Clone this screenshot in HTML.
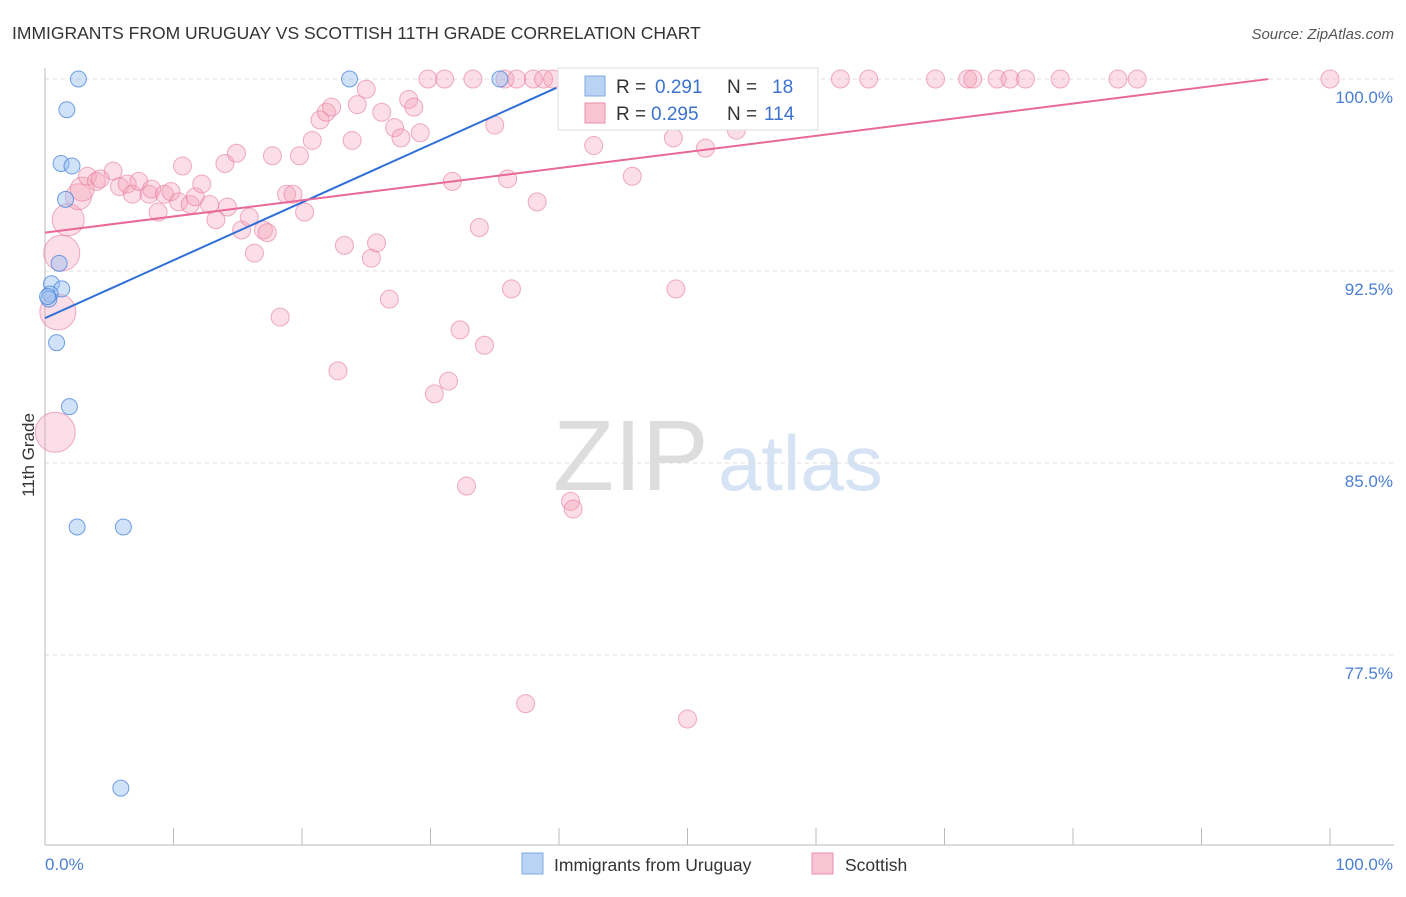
<!DOCTYPE html>
<html><head><meta charset="utf-8"><style>
body{margin:0;background:#fff;font-family:"Liberation Sans",sans-serif}
svg text{font-family:"Liberation Sans",sans-serif}
</style></head><body>
<svg id="c" width="1406" height="892">
<text x="12" y="39" font-size="17.5" fill="#333">IMMIGRANTS FROM URUGUAY VS SCOTTISH 11TH GRADE CORRELATION CHART</text>
<text x="1394" y="39" font-size="15" fill="#555" font-style="italic" text-anchor="end">Source: ZipAtlas.com</text>
<text x="553" y="490" font-size="100" fill="#ddd" font-family="Liberation Serif">ZIP</text>
<text x="718" y="490" font-size="78" fill="#d6e3f5">atlas</text>
<g id="grid"></g><g id="axes"></g><g id="pts"></g><g id="lines"></g>
<text transform="translate(34,455) rotate(-90)" font-size="17" fill="#333" text-anchor="middle">11th Grade</text>
<text x="45" y="870" font-size="17" fill="#4a7fd4">0.0%</text>
<text x="1393" y="870" font-size="17" fill="#4a7fd4" text-anchor="end">100.0%</text>
<g>
<rect x="558" y="68" width="260" height="62" fill="#fff" stroke="#ddd"/>
<rect x="585" y="76" width="20" height="20" fill="#b9d3f5" stroke="#7fa8e0"/>
<text x="616" y="93" font-size="19" fill="#333">R =</text><text x="655" y="93" font-size="19" fill="#3b73cf">0.291</text>
<text x="727" y="93" font-size="19" fill="#333">N =</text><text x="772" y="93" font-size="19" fill="#3b73cf">18</text>
<rect x="585" y="103" width="20" height="20" fill="#f8c4d3" stroke="#eb8fab"/>
<text x="616" y="120" font-size="19" fill="#333">R =</text><text x="651" y="120" font-size="19" fill="#3b73cf">0.295</text>
<text x="727" y="120" font-size="19" fill="#333">N =</text><text x="764" y="120" font-size="19" fill="#3b73cf">114</text>
</g>
<g><rect x="522" y="853" width="21" height="21" fill="#b9d3f5" stroke="#7fa8e0"/><text x="554" y="871" font-size="17.5" fill="#333">Immigrants from Uruguay</text></g>
<g><rect x="812" y="853" width="21" height="21" fill="#f8c4d3" stroke="#eb8fab"/><text x="845" y="871" font-size="17.5" fill="#333">Scottish</text></g>
</svg>
<script>
const yTicks=[100,92.5,85,77.5];
const yTickLabels=["100.0%","92.5%","85.0%","77.5%"];
const xTicks=[0,10,20,30,40,50,60,70,80,90,100];
const blueX=[2.6,1.7,1.25,2.1,1.6,1.1,0.5,1.3,0.4,0.3,0.9,1.9,2.5,6.1,5.9,23.7,35.4,0.2];
const blueY=[100,98.8,96.7,96.6,95.3,92.8,92.0,91.8,91.6,91.4,89.7,87.2,82.5,82.5,72.3,100,100,91.5];
const pinkX=[0.8,1.0,1.3,1.8,2.6,2.9,3.3,4.0,4.3,5.3,5.8,6.4,6.8,7.3,8.1,8.3,8.8,9.3,9.8,10.4,10.7,11.3,11.7,12.2,12.8,13.3,14.0,14.2,14.9,15.3,15.9,16.3,17.0,17.3,17.7,18.3,18.8,19.3,19.8,20.2,20.8,21.4,21.9,22.3,22.8,23.3,23.9,24.3,25.0,25.4,25.8,26.2,26.8,27.2,27.7,28.3,28.7,29.2,29.8,30.3,31.1,31.4,31.7,32.3,32.8,33.3,33.8,34.2,35.0,35.8,36.0,36.3,36.7,37.4,38.0,38.3,38.8,39.5,40.9,41.1,41.6,42.7,43.7,45.0,45.7,47.2,48.3,48.9,49.1,50.0,51.0,51.4,52.2,53.5,53.8,55.3,58.8,59.4,61.9,64.1,69.3,71.8,72.2,74.1,75.1,76.3,79.0,83.5,85.0,100];
const pinkY=[86.2,90.9,93.2,94.5,95.4,95.7,96.2,96.0,96.1,96.4,95.8,95.9,95.5,96.0,95.5,95.7,94.8,95.5,95.6,95.2,96.6,95.1,95.4,95.9,95.1,94.5,96.7,95.0,97.1,94.1,94.6,93.2,94.1,94.0,97.0,90.7,95.5,95.5,97.0,94.8,97.6,98.4,98.7,98.9,88.6,93.5,97.6,99.0,99.6,93.0,93.6,98.7,91.4,98.1,97.7,99.2,98.9,97.9,100,87.7,100,88.2,96.0,90.2,84.1,100,94.2,89.6,98.2,100,96.1,91.8,100,75.6,100,95.2,100,100,83.5,83.2,100,97.4,100,100,96.2,100,100,97.7,91.8,75.0,100,97.3,100,100,98.0,100,100,100,100,100,100,100,100,100,100,100,100,100,100,100];
const pinkBig=[20,18,18,16,13,12];
const blueLine=[90.66,0.226];
const pinkLine=[94.0,0.063];
const NS="http://www.w3.org/2000/svg";
const X=v=>45+v*12.85, Y=v=>79+(100-v)*25.6;
function mk(t,a,p){const e=document.createElementNS(NS,t);for(const k in a)e.setAttribute(k,a[k]);document.getElementById(p).appendChild(e);return e;}
yTicks.forEach((t,i)=>{
 const l=mk('line',{x1:45,x2:1394,y1:Y(t),y2:Y(t),stroke:'#ddd','stroke-dasharray':'4,4'},'grid');
 
 
 const tx=mk('text',{x:1393,y:Y(t)+24,'font-size':17,fill:'#4a7fd4','text-anchor':'end'},'grid');
 tx.textContent=yTickLabels[i];
 
 
});
const ax=mk('line',{x1:45,x2:45,y1:68,y2:845,stroke:'#bbb'},'axes');


const bx=mk('line',{x1:45,x2:1394,y1:845,y2:845,stroke:'#bbb'},'axes');


xTicks.forEach(t=>{const l=mk('line',{x1:X(t),x2:X(t),y1:828,y2:845,stroke:'#bbb'},'axes');
 
 });
pinkX.forEach((v,i)=>{const c=mk('circle',{cx:X(v),cy:Y(pinkY[i]),r:pinkBig[i]||9,fill:'rgba(244,160,185,0.35)',stroke:'rgba(232,120,155,0.6)','stroke-width':1},'pts');
 
 });
blueX.forEach((v,i)=>{const c=mk('circle',{cx:X(v),cy:Y(blueY[i]),r:8,fill:'rgba(150,190,240,0.45)',stroke:'rgba(70,130,220,0.75)','stroke-width':1},'pts');
 
 });
const bl=mk('line',{x1:X(0),y1:Y(blueLine[0]),x2:X(39.8),y2:Y(blueLine[0]+blueLine[1]*39.8),stroke:'#2f6fd6','stroke-width':2},'lines');


const pl=mk('line',{x1:X(0),y1:Y(pinkLine[0]),x2:X(95.2),y2:Y(pinkLine[0]+pinkLine[1]*95.2),stroke:'#e8689a','stroke-width':2},'lines');


</script>
</body></html>
